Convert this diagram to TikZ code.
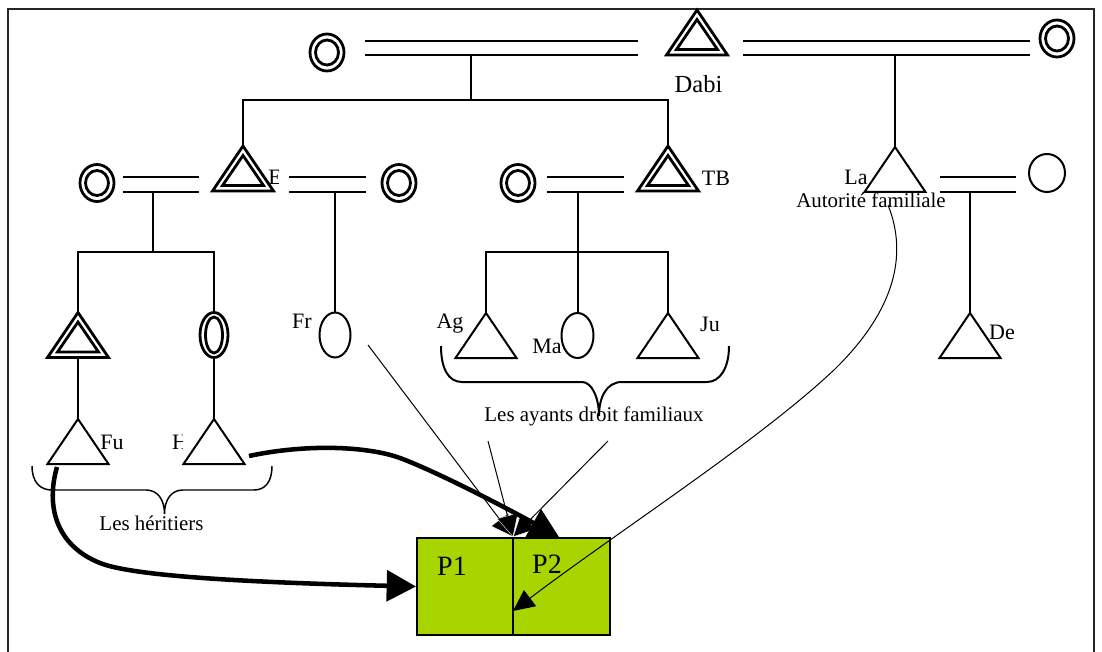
\documentclass[tikz,border=0pt]{standalone}
\usepackage{fontspec}
\setmainfont{Liberation Serif}
\usetikzlibrary{arrows.meta,shapes.geometric,calc}
\tikzset{
  x=0.75pt,y=-0.75pt,
  rule/.style={line width=1.5pt,line cap=butt},
  shape line/.style={line width=1.5pt,line join=miter},
  double line/.style={line width=2.1pt,line join=miter},
  lab/.style={inner sep=0pt,font=\fontsize{16.5pt}{18pt}\selectfont},
  biglab/.style={inner sep=0pt,font=\fontsize{21pt}{24pt}\selectfont},
  dabilab/.style={inner sep=0pt,font=\fontsize{18.4pt}{22pt}\selectfont},
  smalllab/.style={inner sep=0pt,font=\fontsize{15.7pt}{18pt}\selectfont},
  thin arrow/.style={line width=0.75pt,-{Triangle[length=16.5pt,width=16.5pt,fill=black,color=white,line width=0.3pt]}},
  la arrow/.style={line width=0.75pt,-{Triangle[length=16pt,width=15pt]}},
  thick arrow/.style={line width=3.4pt,-{Triangle[length=22pt,width=23pt]}},
  parcel/.style={draw,line width=1.5pt,fill={rgb,255:red,168;green,212;blue,0},minimum height=97*0.75pt,inner sep=0pt,anchor=north west},
}
\newcommand{\persontri}[3]{%
  \coordinate (#1) at (#2,#3);
  \coordinate (#1b) at (#2,#3+45);
  \draw[shape line] (#2,#3) -- (#2+30.5,#3+45) -- (#2-30.5,#3+45) -- cycle;}
\newcommand{\persontridbl}[3]{%
  \coordinate (#1) at (#2,#3);
  \coordinate (#1b) at (#2,#3+45);
  \draw[double line] (#2,#3) -- (#2+30.5,#3+45) -- (#2-30.5,#3+45) -- cycle;
  \draw[double line] (#2,#3+9.5) -- (#2+20.5,#3+39.5) -- (#2-20.5,#3+39.5) -- cycle;}
\newcommand{\personcirc}[5]{% name x y rx ry
  \node[ellipse,draw,line width=1.5pt,inner sep=0pt,minimum width=#4*1.5pt,minimum height=#5*1.5pt] (#1) at (#2,#3) {};}
\newcommand{\personcircdbl}[7]{%
  \node[ellipse,draw,line width=2.1pt,inner sep=0pt,minimum width=#4*1.5pt,minimum height=#5*1.5pt] (#1) at (#2,#3) {};
  \node[ellipse,draw,line width=2.1pt,inner sep=0pt,minimum width=#6*1.5pt,minimum height=#7*1.5pt] (#1i) at (#2,#3) {};}
\newcommand{\marriage}[4]{% name x1 x2 ytop
  \coordinate (#1l) at (#2,#4);
  \coordinate (#1r) at (#3,#4);
  \coordinate (#1L) at (#2,#4+14.5);
  \coordinate (#1R) at (#3,#4+14.5);
  \draw[rule] (#1l) -- (#1r);
  \draw[rule] (#1L) -- (#1R);}
\begin{document}
\begin{tikzpicture}
\useasboundingbox (0,0) rectangle (1102,652);
\draw[line width=1.1pt,color=black!85] (8,651.5) -- (8,9) -- (1094,9) -- (1094,651.5);
% top couples
\personcircdbl{c1}{327}{52.5}{17}{18.5}{11.5}{12.5}
\marriage{m1}{365}{638}{41}
\persontridbl{dabi}{697}{10}
\node[dabilab] (tDabi) at (698.5,84) {Dabi};
\marriage{m2}{743}{1030}{41}
\personcircdbl{c2}{1057}{38.5}{17}{18.5}{11.5}{12.5}
% second generation links
\coordinate (j1) at (471,55.5);
\coordinate (j1b) at (471,100);
\coordinate (tbh) at (668,100);
\persontridbl{b}{243}{146}
\persontridbl{tb}{668}{146}
\draw[rule] (j1) -- (j1b);
\draw[rule] (b) |- (tbh) -- (tb);
\persontri{la}{895}{147}
\coordinate (j2) at (895,55.5);
\draw[rule] (j2) -- (la);
% left family
\personcircdbl{c3}{97}{183}{17}{18.5}{11.5}{12.5}
\marriage{m3}{123}{199}{177.5}
\begin{scope}
\clip (262,165) rectangle (278,195);
\node[lab] (tE) at (275,177) {E};
\end{scope}
\marriage{m4}{289}{366}{177.5}
\personcircdbl{c4}{399}{183}{17}{18.5}{11.5}{12.5}
\coordinate (j3) at (153,192);
\coordinate (j3b) at (153,252.5);
\draw[rule] (j3) -- (j3b);
\persontridbl{g1}{78}{312.5}
\personcircdbl{g2}{214}{335}{14}{22.5}{8.5}{18}
\coordinate (g2t) at (214,312.5);
\coordinate (g2b) at (214,358);
\draw[rule] (g1) |- (j3b) -| (g2t);
\persontri{fu}{78}{419}
\persontri{h}{214}{419}
\draw[rule] (g1b) -- (fu);
\draw[rule] (g2b) -- (h);
\node[lab] (tFu) at (112,442) {Fu};
\begin{scope}
\clip (165,425) rectangle (182,460);
\node[lab] (tH) at (180,442) {H};
\end{scope}
% Fr
\coordinate (j4) at (335,192);
\personcirc{fr}{335}{335}{15.5}{22.5}
\draw[rule] (j4) -- (fr.north);
\node[lab] (tFr) at (302,321) {Fr};
% middle family
\personcircdbl{c5}{518}{183}{17}{18.5}{11.5}{12.5}
\marriage{m5}{547}{624}{177.5}
\node[lab] (tTB) at (716,178) {TB};
\coordinate (j5) at (577.5,192);
\coordinate (j5b) at (577.5,252.5);
\persontri{ag}{486}{313}
\personcirc{ma}{577.5}{335.5}{16}{22.5}
\persontri{ju}{668}{313}
\draw[rule] (j5) -- (j5b);
\draw[rule] (ag) |- (j5b) -| (ju);
\draw[rule] (j5b) -- (ma.north);
\node[lab] (tAg) at (450,324) {Ag};
\node[lab] (tMa) at (547,346) {Ma};
\node[lab] (tJu) at (710,324) {Ju};
% right family
\node[lab] (tLa) at (856,177) {La};
\node[smalllab] (tAut) at (871,200) {Autorité familiale};
\marriage{m6}{940}{1016}{177.5}
\personcirc{c6}{1047}{173}{18}{19}
\coordinate (j6) at (970,192);
\persontri{de}{970}{313}
\draw[rule] (j6) -- (de);
\node[lab] (tDe) at (1002,332) {De};
% braces
\coordinate (b1l) at (32,466);
\coordinate (b1m) at (164.5,514);
\coordinate (b1r) at (272,466);
\draw[line width=1.1pt] (b1l) .. controls (32,482) and (40,490) .. (52,490) -- (146,490) .. controls (158,490) and (164.5,500) .. (b1m) .. controls (164.5,500) and (171,490) .. (183,490) -- (254,490) .. controls (265,490) and (272,482) .. (b1r);
\node[smalllab] (tHer) at (151.5,523) {Les héritiers};
\coordinate (b2l) at (441,346);
\coordinate (b2m) at (599,416);
\coordinate (b2r) at (729,346);
\draw[line width=1.5pt] (b2l) .. controls (441,368) and (448,382) .. (462,382) -- (582,382) .. controls (592,382) and (599,398) .. (b2m) .. controls (599,398) and (606,382) .. (622,382) -- (707,382) .. controls (720,382) and (729,368) .. (b2r);
\node[smalllab] (tAy) at (594,416) {Les ayants droit familiaux};
% arrows under the parcels
\coordinate (a1s) at (368,345);
\coordinate (a2s) at (488,441);
\coordinate (a3s) at (608,441);
\coordinate (tip) at (513,537);
\draw[thin arrow] (a1s) -- (tip);
\draw[thin arrow] (a3s) -- (tip);
\draw[thin arrow] (a2s) -- (tip);
\coordinate (a5s) at (249,456);
\coordinate (a5e) at (559,537);
\draw[thick arrow] (a5s) .. controls (310,443) and (370,447) .. (400,458) .. controls (440,473) and (510,510) .. (a5e);
% parcels
\node[parcel,minimum width=96*0.75pt] (p1) at (416,537) {};
\node[parcel,minimum width=96.5*0.75pt] (p2) at (512,537) {};
\node[biglab] (tP1) at (452,566) {P1};
\node[biglab] (tP2) at (547,564) {P2};
\coordinate (a4s) at (57,467);
\draw[thick arrow] (a4s) .. controls (46,505) and (55,545) .. (100,563) .. controls (130,575) and (230,582) .. (p1.west);
\coordinate (a6s) at (888,205);
\coordinate (a6e) at (513,611);
\draw[la arrow] (a6s) .. controls (908,255) and (895,310) .. (835,369) .. controls (760,440) and (620,530) .. (a6e);
\end{tikzpicture}
\end{document}
